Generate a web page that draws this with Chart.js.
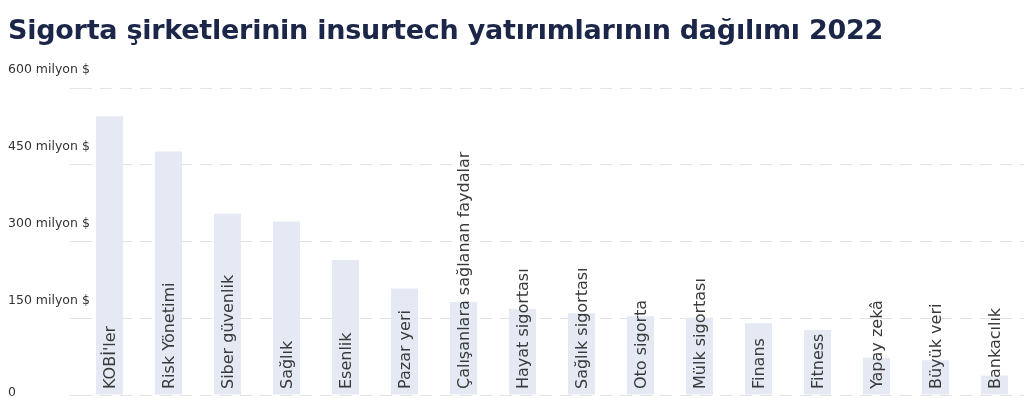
<!DOCTYPE html>
<html>
<head>
<meta charset="utf-8">
<script src="https://cdn.jsdelivr.net/npm/chart.js@4"></script>
<style>
  html, body { margin: 0; padding: 0; background: #ffffff; }
  #wrap { position: relative; width: 1024px; height: 420px; }
  #title {
    position: absolute; left: 8px; top: 14px;
    font-family: "DejaVu Sans", sans-serif; font-weight: bold;
    font-size: 27px; color: #1b2648; white-space: nowrap;
    letter-spacing: -0.25px;
  }
  canvas { position: absolute; left: 0; top: 0; }
</style>
</head>
<body>
<div id="wrap">
  <canvas id="chart" width="1024" height="420"></canvas>
  <div id="title">Sigorta şirketlerinin insurtech yatırımlarının dağılımı 2022</div>
</div>
<script>
// kategoriler ve değerler (milyon $)
const categories = [
  "KOBİ'ler", "Risk Yönetimi", "Siber güvenlik", "Sağlık", "Esenlik",
  "Pazar yeri", "Çalışanlara sağlanan faydalar", "Hayat sigortası",
  "Sağlık sigortası", "Oto sigorta", "Mülk sigortası", "Finans",
  "Fitness", "Yapay zekâ", "Büyük veri", "Bankacılık"
];
const investments = [
  545, 476, 354, 339, 264, 208, 182, 168,
  160, 154, 151, 140, 127, 73, 68, 38
];
const yTicks = [0, 150, 300, 450, 600];

const labelFont = '16px "DejaVu Sans", sans-serif';
const tickFont = '12.5px "DejaVu Sans", sans-serif';

// y-ekseni etiketleri: çizginin hemen üstünde, sola yaslı
const yLabelsPlugin = {
  id: "yLabels",
  afterDraw(chart) {
    const ctx = chart.ctx;
    const y = chart.scales.y;
    ctx.save();
    ctx.font = tickFont;
    ctx.fillStyle = "#333333";
    ctx.textAlign = "left";
    ctx.textBaseline = "middle";
    yTicks.forEach(v => {
      const py = y.getPixelForValue(v);
      const text = v === 0 ? "0" : v + " milyon $";
      ctx.fillText(text, 8, v === 0 ? py - 2 : py - 18);
    });
    ctx.restore();
  }
};

// kategori adları çubukların içinde, dikey
const barLabelsPlugin = {
  id: "barLabels",
  afterDatasetsDraw(chart) {
    const ctx = chart.ctx;
    const x = chart.scales.x;
    const y = chart.scales.y;
    const base = y.getPixelForValue(0);
    ctx.save();
    ctx.font = labelFont;
    ctx.fillStyle = "#3a3a3a";
    ctx.textAlign = "left";
    ctx.textBaseline = "middle";
    chart.data.labels.forEach((lab, i) => {
      ctx.save();
      ctx.translate(x.getPixelForValue(i) + 1, base - 6);
      ctx.rotate(-Math.PI / 2);
      ctx.fillText(lab, 0, 0);
      ctx.restore();
    });
    ctx.restore();
  }
};

new Chart(
  document.getElementById("chart"),
  {
    type: "bar",
    data: {
      labels: categories,
      datasets: [
        {
          data: investments,
          backgroundColor: "#e4e9f4",
          borderWidth: 0,
          barPercentage: 0.46,
          categoryPercentage: 1
        }
      ]
    },
    options: {
      responsive: false,
      animation: false,
      layout: {
        padding: { top: 88, left: 70, right: 0, bottom: 25 }
      },
      plugins: {
        legend: { display: false },
        tooltip: { enabled: false }
      },
      scales: {
        x: {
          display: false
        },
        y: {
          min: 0,
          max: 600,
          afterBuildTicks(scale) {
            scale.ticks = yTicks.map(v => ({ value: v }));
          },
          ticks: { display: false },
          border: { display: false, dash: [12, 8] },
          grid: {
            color: "#e3e3e3",
            lineWidth: 1,
            drawTicks: true,
            tickLength: 10,
            tickColor: "#e3e3e3",
            tickBorderDash: [12, 8]
          }
        }
      }
    },
    plugins: [yLabelsPlugin, barLabelsPlugin]
  }
);
</script>
</body>
</html>
